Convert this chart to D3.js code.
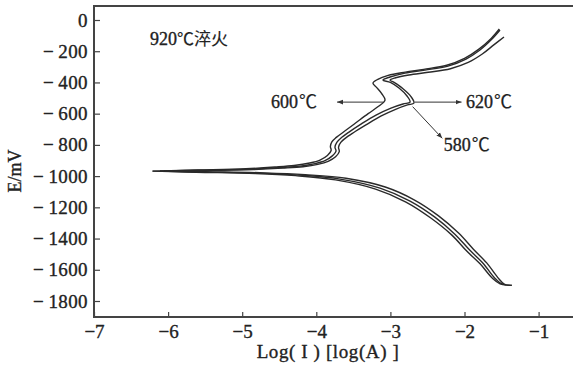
<!DOCTYPE html>
<html><head><meta charset="utf-8">
<script src="https://cdn.jsdelivr.net/npm/d3@7/dist/d3.min.js"></script>
<style>
html,body{margin:0;padding:0;background:#fff;}
svg{display:block;}
text{font-family:"Liberation Serif","Noto Serif CJK SC","Noto Sans CJK SC",serif;fill:#222;stroke:#222;stroke-width:0.35px;}
.cjk{font-family:"Noto Sans CJK SC",sans-serif;stroke-width:0.15px;}
</style></head>
<body><svg id="c" width="573" height="371"></svg>
<script>
// ---- data (logI, E in mV) ----
const xTicks = [-7, -6, -5, -4, -3, -2, -1];
const yTicks = [0, -200, -400, -600, -800, -1000, -1200, -1400, -1600, -1800];
const seriesTemps = ["600", "580", "620"];

const cathodic600 = [[-6.21,-968],[-5.62,-975],[-4.82,-983],[-4.28,-997],[-3.74,-1024],[-3.2,-1083],[-2.79,-1166],[-2.45,-1270],[-2.17,-1378],[-1.97,-1480],[-1.79,-1562],[-1.62,-1656],[-1.52,-1690],[-1.44,-1696]];
const anodic600 = [[-6.21,-968],[-5.6,-961],[-4.95,-953],[-4.56,-942],[-4.30,-932],[-4.09,-916],[-3.95,-897],[-3.85,-868],[-3.80,-836],[-3.81,-810],[-3.79,-780],[-3.73,-752],[-3.62,-713],[-3.47,-660],[-3.30,-600],[-3.16,-553],[-3.073,-513],[-3.12,-470],[-3.19,-430],[-3.235,-404],[-3.17,-380],[-3.03,-355],[-2.80,-334],[-2.55,-316],[-2.24,-290],[-2.00,-246],[-1.81,-188],[-1.64,-118],[-1.53,-58]];

const cathodic580 = [[-6.11,-968],[-5.57,-974],[-4.76,-981],[-4.22,-994],[-3.68,-1019],[-3.14,-1077],[-2.735,-1160],[-2.40,-1263],[-2.13,-1372],[-1.93,-1474],[-1.75,-1558],[-1.59,-1654],[-1.49,-1692],[-1.36,-1699]];
const anodic580 = [[-6.11,-968],[-5.569,-962],[-4.895,-955],[-4.49,-945],[-4.22,-936],[-4.018,-920],[-3.883,-901],[-3.788,-872],[-3.734,-840],[-3.748,-814],[-3.721,-782],[-3.667,-756],[-3.559,-718],[-3.397,-667],[-3.194,-609],[-2.992,-564],[-2.83,-538],[-2.735,-526],[-2.776,-487],[-2.884,-436],[-3.0,-400],[-3.10,-385],[-3.005,-365],[-2.803,-340],[-2.533,-321],[-2.223,-295],[-1.98,-250],[-1.791,-192],[-1.629,-122],[-1.521,-64]];

const cathodic620 = [[-6.05,-967],[-5.5,-972],[-4.7,-979],[-4.15,-991],[-3.6,-1014],[-3.07,-1070],[-2.68,-1152],[-2.35,-1255],[-2.08,-1365],[-1.88,-1468],[-1.70,-1556],[-1.55,-1650],[-1.46,-1694],[-1.38,-1700]];
const anodic620 = [[-6.05,-967],[-5.5,-964],[-4.85,-958],[-4.45,-949],[-4.18,-940],[-3.98,-925],[-3.84,-905],[-3.74,-876],[-3.69,-843],[-3.70,-815],[-3.67,-784],[-3.61,-758],[-3.50,-722],[-3.33,-672],[-3.13,-616],[-2.93,-572],[-2.77,-544],[-2.682,-532],[-2.72,-492],[-2.83,-440],[-2.95,-400],[-3.005,-385],[-2.93,-370],[-2.75,-352],[-2.49,-335],[-2.19,-312],[-1.95,-272],[-1.76,-218],[-1.60,-158],[-1.467,-109]];

// ---- layout ----
const svg = d3.select("#c");
const L = 94, T = 6, B = 317, R = 573;
const x = d3.scaleLinear().domain([-7, -7 + (R - L) / 74.1]).range([L, R]);
const y = d3.scaleLinear().domain([0, -1800]).range([20, 301]);

const col = "#2a2a2a";

// frame
svg.append("path").attr("d", `M${R+2},${T}H${L}V${B}H${R+2}`)
  .attr("fill","none").attr("stroke","#444").attr("stroke-width",2);

// y axis ticks
const ya = d3.axisLeft(y).tickValues(yTicks).tickSize(-6).tickPadding(6)
  .tickFormat(d => d === 0 ? "0" : "\u2212\u2009" + Math.abs(d));
const gy = svg.append("g").attr("transform",`translate(${L},0)`).call(ya);
gy.select(".domain").remove();
gy.selectAll("line").attr("stroke","#444").attr("stroke-width",1.2);
gy.selectAll("text").attr("font-size",19).attr("fill","#222").attr("letter-spacing",0.4)
  .style("font-family","Liberation Serif, serif");

// x axis ticks
const xa = d3.axisBottom(x).tickValues(xTicks).tickSize(-5).tickPadding(8)
  .tickFormat(d => "\u2212" + Math.abs(d));
const gx = svg.append("g").attr("transform",`translate(0,${B})`).call(xa);
gx.select(".domain").remove();
gx.selectAll("line").attr("stroke","#444").attr("stroke-width",1.2);
gx.selectAll("text").attr("font-size",19).attr("fill","#222")
  .style("font-family","Liberation Serif, serif");

// curves
const line = d3.line().x(d => x(d[0])).y(d => y(d[1])).curve(d3.curveCatmullRom.alpha(0.5));
[cathodic600, anodic600, cathodic580, anodic580, cathodic620, anodic620].forEach(s => {
  svg.append("path").attr("d", line(s)).attr("fill","none")
    .attr("stroke", col).attr("stroke-width",1.4).attr("stroke-linejoin","round");
});

// arrow marker
svg.append("defs").append("marker").attr("id","ah").attr("viewBox","0 0 10 10")
  .attr("refX",10).attr("refY",5).attr("markerWidth",6).attr("markerHeight",6)
  .attr("orient","auto-start-reverse")
  .append("path").attr("d","M0,1L10,5L0,9Z").attr("fill","#333");

function arrow(x1,y1,x2,y2){
  svg.append("line").attr("x1",x(x1)).attr("y1",y(y1)).attr("x2",x(x2)).attr("y2",y(y2))
    .attr("stroke","#333").attr("stroke-width",1).attr("marker-end","url(#ah)");
}
arrow(-3.10,-526,-3.72,-526);
arrow(-2.67,-526,-2.04,-526);
arrow(-2.70,-555,-2.30,-758);

function label(xv, yv, anchor, num){
  const t = svg.append("text").attr("x",x(xv)).attr("y",y(yv)+6).attr("text-anchor",anchor)
    .attr("font-size",18);
  t.append("tspan").text(num);
  t.append("tspan").attr("class","cjk").attr("font-size",18).attr("dx",1).text("℃");
}
label(-3.99, -526, "end", seriesTemps[0]);
label(-1.98, -526, "start", seriesTemps[2]);
label(-2.28, -800, "start", seriesTemps[1]);

// title inside
const tt = svg.append("text").attr("x",150).attr("y",y(-160)).attr("font-size",18);
tt.append("tspan").text("920");
tt.append("tspan").attr("class","cjk").attr("font-size",17).text("℃淬火");

// axis titles
svg.append("text").attr("x",328).attr("y",358).attr("text-anchor","middle")
  .attr("font-size",19).attr("letter-spacing",0.6).text("Log( I )  [log(A) ]");
svg.append("text").attr("transform",`translate(21,171) rotate(-90)`).attr("text-anchor","middle")
  .attr("font-size",18).text("E/mV");
</script></body></html>
